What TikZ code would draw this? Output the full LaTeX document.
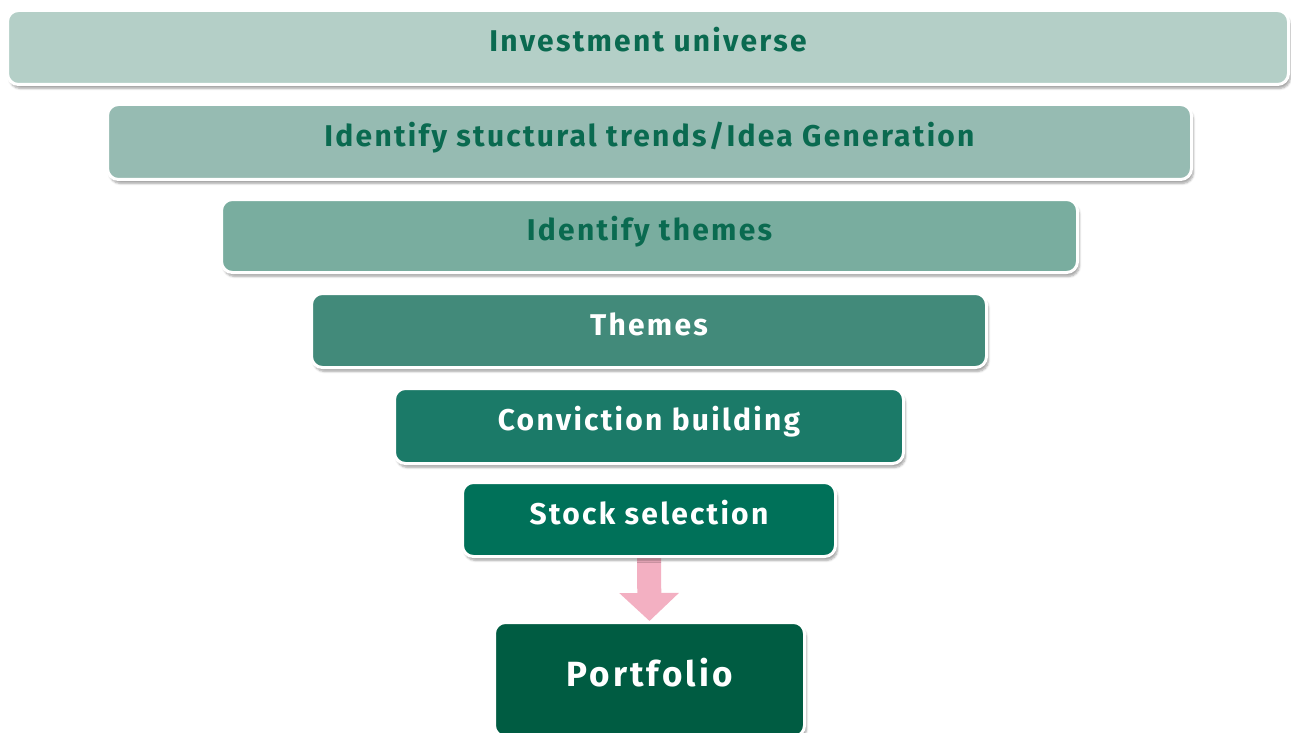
\documentclass[tikz,border=0pt]{standalone}
\usepackage{fontspec}
\setmainfont{Fira Sans}
\newfontfamily\stagefont[LetterSpace=7.5]{Fira Sans}
\newfontfamily\portfont[LetterSpace=9]{Fira Sans}
\usetikzlibrary{arrows.meta,shadows.blur,backgrounds}
\definecolor{cA}{HTML}{B4CFC7}
\definecolor{cB}{HTML}{96BBB2}
\definecolor{cC}{HTML}{79AD9F}
\definecolor{cD}{HTML}{428A7A}
\definecolor{cE}{HTML}{1B7A68}
\definecolor{cF}{HTML}{007159}
\definecolor{cG}{HTML}{005C42}
\definecolor{darktxt}{HTML}{0A6A50}
\definecolor{arrowpink}{HTML}{F3B0C2}
\tikzset{
  stage/.style={draw=white, line width=3pt, rounded corners=11pt,
    blur shadow={shadow blur steps=6, shadow xshift=2pt, shadow yshift=-4pt, shadow opacity=35},
    font=\stagefont\fontsize{30}{34}\selectfont\bfseries, text height=21pt, text depth=12pt, inner sep=0pt},
  lighttxt/.style={text=darktxt},
  whitetxt/.style={text=white},
}
\begin{document}
\begin{tikzpicture}[x=1pt,y=-1pt]
\useasboundingbox (0,0) rectangle (1291,733);
\node[stage, lighttxt, fill=cA, minimum width=1281pt, minimum height=74pt] (uni) at (648,47.5) {Investment universe};
\node[stage, lighttxt, fill=cB, minimum width=1084pt, minimum height=75pt] (idea) at (649.5,142) {Identify stuctural trends/Idea Generation};
\node[stage, lighttxt, fill=cC, minimum width=856pt, minimum height=73pt] (ident) at (649.5,236) {Identify themes};
\node[stage, whitetxt, fill=cD, minimum width=675pt, minimum height=74pt] (themes) at (649,330.5) {Themes};
\node[stage, whitetxt, fill=cE, minimum width=509pt, minimum height=75pt] (conv) at (649,426) {Conviction building};
\node[stage, whitetxt, fill=cF, minimum width=373pt, minimum height=74pt] (stock) at (649,519.5) {Stock selection};
\node[stage, whitetxt, fill=cG, minimum width=310pt, minimum height=114pt, font=\portfont\fontsize{35}{40}\selectfont\bfseries, text height=24pt, text depth=11pt] (port) at (649.5,679.5) {Portfolio};
\begin{scope}[on background layer]
\draw[line width=24pt, draw=arrowpink, -{Triangle[width=58pt,length=28pt]}] (stock.south) -- (port.north);
\end{scope}
\end{tikzpicture}
\end{document}
